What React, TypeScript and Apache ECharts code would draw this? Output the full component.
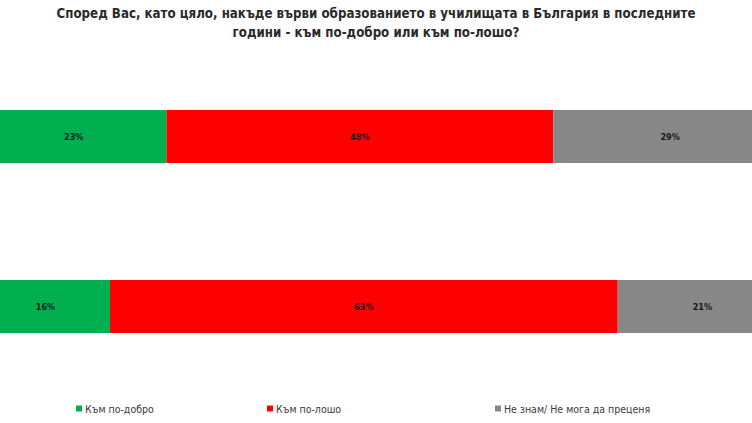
import React, { useEffect, useRef } from "react";
import * as echarts from "echarts";

const titleText =
  "Според Вас, като цяло, накъде върви образованието в училищата в България в последните\nгодини - към по-добро или към по-лошо?";
const categories = ["Първо проучване", "Второ проучване"];
const seriesNames = ["Към по-добро", "Към по-лошо", "Не знам/ Не мога да преценя"];
const better = [23, 16];
const worse = [48, 63];
const dontKnow = [29, 21];
const colors = ["#00B050", "#FF0000", "#878787"];
const legendLefts = [76, 267, 495];

export default function App() {
  const ref = useRef<HTMLDivElement>(null);
  useEffect(() => {
    if (!ref.current) return;
    const chart = echarts.init(ref.current, undefined, { renderer: "svg" });
    const values = [better, worse, dontKnow];
    const font = "'Liberation Sans Narrow', 'DejaVu Sans Condensed', 'Liberation Sans', sans-serif";
    // plot area spans pixel -19 .. 787 for 0..100 %, the image crops it to 0..752
    const span = 806;
    chart.setOption({
      animation: false,
      backgroundColor: "#ffffff",
      title: {
        text: titleText,
        left: 376,
        top: 4,
        padding: 0,
        textAlign: "center",
        textStyle: {
          fontFamily: font,
          fontWeight: "bold",
          fontSize: 13.2,
          lineHeight: 19,
          color: "#2a2a2a",
        },
      },
      legend: seriesNames.map((n, i) => ({
        data: [n],
        left: legendLefts[i],
        top: 403,
        padding: 0,
        itemWidth: 6,
        itemHeight: 6,
        itemGap: 4,
        icon: "rect",
        textStyle: { fontFamily: font, fontSize: 10.5, color: "#3a3a3a", padding: [0, 0, 0, -2] },
      })),
      grid: { left: 0, right: 0, top: 51.5, bottom: 31.5, containLabel: false },
      xAxis: {
        type: "value",
        min: (19 / span) * 100,
        max: (771 / span) * 100,
        show: false,
      },
      yAxis: {
        type: "category",
        data: categories,
        inverse: true,
        show: false,
      },
      series: seriesNames.map((n, i) => ({
        name: n,
        type: "bar",
        stack: "total",
        barWidth: 53,
        clip: false,
        data: values[i],
        itemStyle: { color: colors[i] },
        label: {
          show: true,
          position: "inside",
          formatter: "{c}%",
          fontFamily: font,
          fontWeight: "bold",
          fontSize: 9,
          color: "#1a1a1a",
        },
      })),
    });
    return () => chart.dispose();
  }, []);
  return <div ref={ref} style={{ width: 752, height: 423, position: "absolute", left: 0, top: 0 }} />;
}
